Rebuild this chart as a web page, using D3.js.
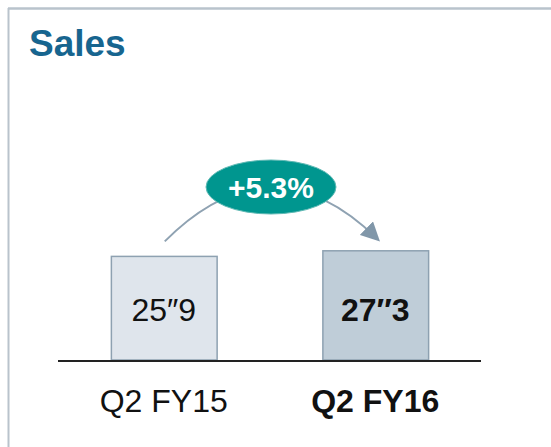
<html>
<script src="https://d3js.org/d3.v7.min.js"></script>
<style>
body { margin: 0; background: white; }
svg { display: block; font-family: 'Liberation Sans', Arial, sans-serif; }
</style>
<body>
<svg width="551" height="447"></svg>
<script>
// chart data
const categories = ["Q2 FY15", "Q2 FY16"];
const sales = [25.9, 27.3];
const valueLabels = ["25\u20339", "27\u20333"];
const growthLabel = "+5.3%";
const title = "Sales";

const svg = d3.select("svg");

// panel border (top + left only visible)
svg.append("line")
    .attr("x1", 8).attr("y1", 8.5).attr("x2", 551).attr("y2", 8.5)
    .attr("stroke", "#b9c3cc").attr("stroke-width", 2.5);
svg.append("line")
    .attr("x1", 8.5).attr("y1", 8).attr("x2", 8.5).attr("y2", 447)
    .attr("stroke", "#b9c3cc").attr("stroke-width", 2);

svg.append("text")
    .attr("x", 29).attr("y", 56)
    .attr("fill", "#17658f")
    .style("font-size", "37px")
    .style("font-weight", "bold")
    .text(title);

var x = d3.scaleBand()
    .domain(categories)
    .range([58, 481])
    .paddingInner(0.5)
    .paddingOuter(0.25);

var y = d3.scaleLinear()
    .domain([0, 30])
    .range([360, 240]);

const fills = ["#dfe5ec", "#bfcdd8"];

svg.selectAll("rect.bar")
    .data(sales)
    .enter()
    .append("rect")
    .attr("class", "bar")
    .attr("x", (d, i) => x(categories[i]) + 0.5)
    .attr("y", d => y(d))
    .attr("width", x.bandwidth())
    .attr("height", d => y(0) - y(d))
    .attr("fill", (d, i) => fills[i])
    .attr("stroke", "#8ea1b1")
    .attr("stroke-width", 1.5);

// baseline
svg.append("line")
    .attr("x1", 58).attr("x2", 481)
    .attr("y1", y(0) + 1).attr("y2", y(0) + 1)
    .attr("stroke", "#222").attr("stroke-width", 2);

// value labels inside bars
svg.selectAll("text.val")
    .data(sales)
    .enter()
    .append("text")
    .attr("class", "val")
    .attr("x", (d, i) => x(categories[i]) + x.bandwidth() / 2)
    .attr("y", 321)
    .attr("text-anchor", "middle")
    .attr("fill", "#111")
    .style("font-size", "32px")
    .style("font-weight", (d, i) => i === 1 ? "bold" : "normal")
    .text((d, i) => valueLabels[i]);

// category labels
svg.selectAll("text.cat")
    .data(categories)
    .enter()
    .append("text")
    .attr("class", "cat")
    .attr("x", d => x(d) + x.bandwidth() / 2)
    .attr("y", 412)
    .attr("text-anchor", "middle")
    .attr("fill", "#111")
    .style("font-size", "32px")
    .style("font-weight", (d, i) => i === 1 ? "bold" : "normal")
    .text(d => d);

// growth arrow
svg.append("defs")
    .append("marker")
    .attr("id", "head")
    .attr("markerUnits", "userSpaceOnUse")
    .attr("viewBox", "0 0 10 10")
    .attr("refX", 8).attr("refY", 5)
    .attr("markerWidth", 19).attr("markerHeight", 19)
    .attr("orient", "auto")
    .append("path")
    .attr("d", "M0,0 L10,5 L0,10 Z")
    .attr("fill", "#8197a9");

const x0 = x(categories[0]) + x.bandwidth() / 2 + 1;
const x1 = x(categories[1]) + x.bandwidth() / 2 + 2;
const y0 = y(sales[0]) - 15;
const y1 = y(sales[1]) - 12;
const mx = (x0 + x1) / 2;

svg.append("path")
    .attr("d", `M${x0},${y0} Q${mx},135 ${x1},${y1}`)
    .attr("fill", "none")
    .attr("stroke", "#8fa2b2")
    .attr("stroke-width", 2)
    .attr("marker-end", "url(#head)");

svg.append("ellipse")
    .attr("cx", mx).attr("cy", 187)
    .attr("rx", 65).attr("ry", 27)
    .attr("fill", "#00968f")
    .attr("stroke", "#5fb9b4")
    .attr("stroke-width", 1);

svg.append("text")
    .attr("x", mx).attr("y", 198)
    .attr("text-anchor", "middle")
    .attr("fill", "white")
    .style("font-size", "30px")
    .style("font-weight", "bold")
    .text(growthLabel);
</script>
</body>
</html>
